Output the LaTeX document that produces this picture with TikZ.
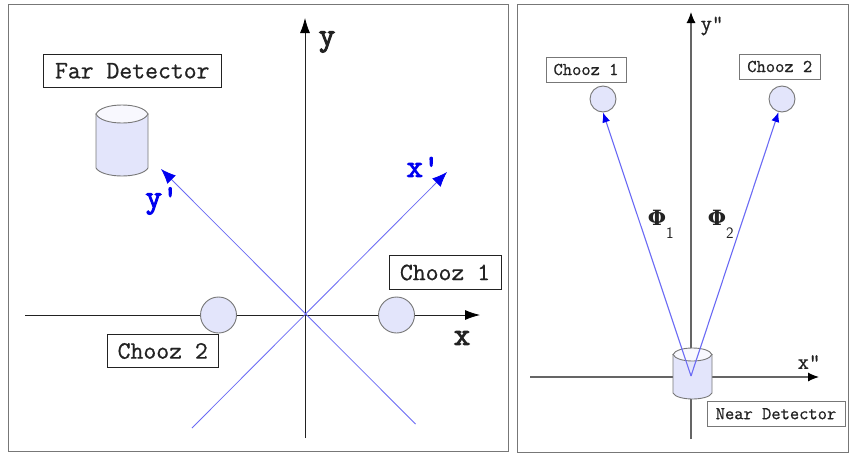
\documentclass[tikz,border=0pt]{standalone}
\usepackage{fontspec}
\usetikzlibrary{arrows.meta}
\newfontfamily\lmmed{Latin Modern Mono}[FakeBold=0.7]
\newfontfamily\lmheavy{Latin Modern Mono}[FakeBold=3]
\newfontfamily\phifont{DejaVu Serif}
\definecolor{fillb}{HTML}{E3E5FB}
\definecolor{topb}{HTML}{F8F8FE}
\definecolor{ink}{HTML}{222222}
\definecolor{frame}{HTML}{777777}
\definecolor{bl}{HTML}{0000F0}
\definecolor{blline}{HTML}{6A6AF5}
\newcommand{\fbig}{\lmmed\fontsize{25}{25}\selectfont}
\newcommand{\fsmall}{\lmmed\fontsize{18}{18}\selectfont}
\tikzset{
 panel/.style={draw=frame,line width=.9pt},
 bigbox/.style={draw=ink,line width=.7pt,fill=white,text=ink,font=\fbig,inner sep=0pt,minimum height=33.5pt},
 smallbox/.style={draw=frame,line width=.9pt,fill=white,text=ink,font=\fsmall,inner sep=0pt,minimum height=25pt},
 sphere/.style={circle,draw=frame,line width=.9pt,fill=fillb,inner sep=0pt},
 axis/.style={draw=ink,line width=.8pt,-{Latex[length=15pt,width=10pt,color=black]}},
 axisr/.style={draw=frame!85!black,line width=1.1pt,-{Latex[length=11pt,width=9pt,color=black]}},
 bluearrow/.style={draw=blline,line width=.8pt,-{Latex[length=15pt,width=12pt,color=bl]}},
 bluearrowr/.style={draw=blline,line width=1.1pt,-{Latex[length=10pt,width=8pt,color=bl]}},
 cyl/.style={draw=frame,line width=.9pt,fill=fillb},
 cyltop/.style={draw=frame,line width=.9pt,fill=topb},
 axlabel/.style={inner sep=0pt,text=ink,font=\lmheavy\fontsize{32}{32}\selectfont},
 axlabelr/.style={inner sep=0pt,text=ink,font=\lmmed\fontsize{22}{22}\selectfont},
 bluelabel/.style={inner sep=0pt,text=bl,font=\lmheavy\fontsize{32}{32}\selectfont},
 philabel/.style={inner sep=0pt,text=ink,font=\phifont\bfseries\fontsize{21}{21}\selectfont},
 sublabel/.style={inner sep=0pt,text=ink,font=\sffamily\fontsize{16}{16}\selectfont}
}
\begin{document}
\begin{tikzpicture}[x=1pt,y=-1pt]
\useasboundingbox (0,0) rectangle (849,453);
\fill[white] (0,0) rectangle (849,453);
% panels
\draw[panel] (8,4) rectangle (508,451);
\draw[panel] (517,4) rectangle (848,452);
% left coordinates
\coordinate (o) at (305,315);
\coordinate (xs) at (25,315);
\coordinate (xe) at (480,315);
\coordinate (ys) at (305,438);
\coordinate (ye) at (305,18);
\coordinate (xps) at (192,428);
\coordinate (xpe) at (447,172);
\coordinate (yps) at (415.5,424);
\coordinate (ype) at (161,169);
\draw[axis] (xs) -- (xe);
\draw[axis] (ys) -- (ye);
\draw[bluearrow] (xps) -- (xpe);
\draw[bluearrow] (yps) -- (ype);
\node[sphere,minimum size=36pt] (cl2) at (218.5,315) {};
\node[sphere,minimum size=36pt] (cl1) at (396.5,315) {};
% far detector
\draw[cyl] (96,114) -- (96,168) .. controls (99,173) and (110,176) .. (122,176) .. controls (134,176) and (145,173) .. (148,168) -- (148,114) -- cycle;
\draw[cyltop] (96,114) .. controls (99,108) and (110,105) .. (122,105) .. controls (134,105) and (145,108) .. (148,114) .. controls (145,120) and (134,123) .. (122,123) .. controls (110,123) and (99,120) .. (96,114) -- cycle;
\node[bigbox,minimum width=177.5pt] (far) at (132.25,70.75) {Far Detector};
\node[bigbox,minimum width=112pt] (ch1) at (445,272.5) {Chooz 1};
\node[bigbox,minimum width=111.5pt] (ch2) at (162.75,351) {Chooz 2};
\node[axlabel] (ly) at (327,42) {y};
\node[axlabel] (lx) at (462,338) {x};
\node[bluelabel] (lxp) at (423,167) {x'};
\node[bluelabel] (lyp) at (162,201) {y'};
% right
\coordinate (rxs) at (530,377);
\coordinate (rxe) at (819,377);
\coordinate (rys) at (691,439);
\coordinate (rye) at (691,12);
\coordinate (nd) at (691,376);
\draw[axisr] (rxs) -- (rxe);
\draw[axisr] (rys) -- (rye);
\draw[cyl] (673,354.5) -- (673,393) .. controls (675,397) and (684,399) .. (692.5,399) .. controls (701,399) and (710,397) .. (712,393) -- (712,354.5) -- cycle;
\draw[cyltop] (673,354.5) .. controls (675,350) and (684,348) .. (692.5,348) .. controls (701,348) and (710,350) .. (712,354.5) .. controls (710,359) and (701,361) .. (692.5,361) .. controls (684,361) and (675,359) .. (673,354.5) -- cycle;
\node[sphere,minimum size=26pt] (c1) at (603,99) {};
\node[sphere,minimum size=26pt] (c2) at (782,99) {};
\draw[bluearrowr] (nd) -- (c1.south);
\draw[bluearrowr] (nd) -- (c2.255);
\node[smallbox,minimum width=80pt] (rc1) at (586,69.5) {Chooz 1};
\node[smallbox,minimum width=80.5pt] (rc2) at (779.75,66.5) {Chooz 2};
\node[smallbox,minimum width=138pt] (near) at (776,413.75) {Near Detector};
\node[axlabelr] (lry) at (712,26) {y"};
\node[axlabelr] (lrx) at (809,362) {x"};
\node[philabel] (p1) at (657,218) {Φ};
\node[sublabel] (s1) at (670,233) {1};
\node[philabel] (p2) at (717,218) {Φ};
\node[sublabel] (s2) at (730,233) {2};
\end{tikzpicture}
\end{document}
